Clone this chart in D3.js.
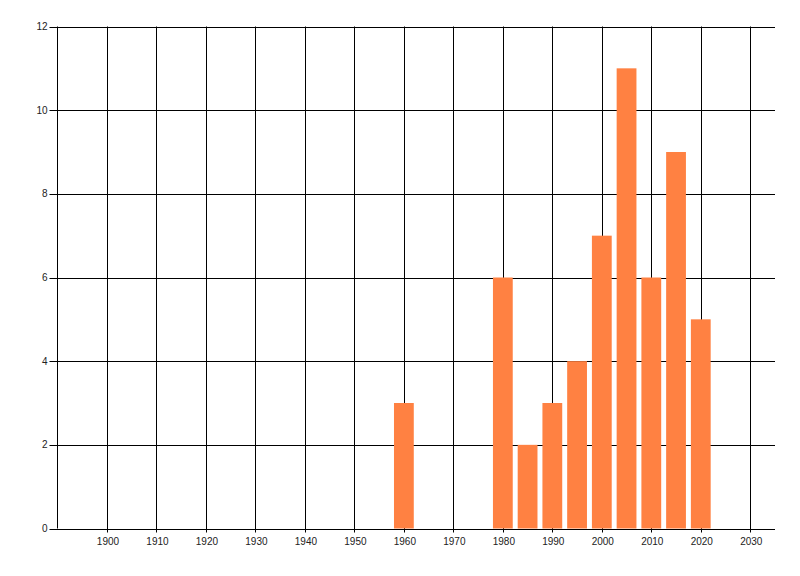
<!DOCTYPE html>
<html>
<head>
<meta charset="utf-8">
<script src="https://cdn.jsdelivr.net/npm/d3@7"></script>
<style>
  body { margin: 0; background: #fff; }
  text { font-family: "Liberation Sans", Arial, sans-serif; font-size: 10px; fill: #222; }
</style>
</head>
<body>
<div id="chart"></div>
<script>
//Chart data
var years = [1960, 1980, 1985, 1990, 1995, 2000, 2005, 2010, 2015, 2020];
var counts = [3, 6, 2, 3, 4, 7, 11, 6, 9, 5];
var xTicks = [1900, 1910, 1920, 1930, 1940, 1950, 1960, 1970, 1980, 1990, 2000, 2010, 2020, 2030];
var yTicks = [0, 2, 4, 6, 8, 10, 12];

var width = 800, height = 576;
var margin = {top: 26.5, right: 25, bottom: 47.5, left: 57.5};

var svg = d3.select("#chart").append("svg")
    .attr("width", width)
    .attr("height", height);

//Scales
var x = d3.scaleLinear()
    .domain([1890, 2035])
    .range([margin.left, width - margin.right]);

var y = d3.scaleLinear()
    .domain([0, 12])
    .range([height - margin.bottom, margin.top]);

var barWidth = x(1904) - x(1900);

//Vertical grid lines (with small tick below the axis)
svg.append("g")
    .selectAll("line")
    .data(xTicks)
    .enter()
    .append("line")
    .attr("x1", function(d) { return Math.round(x(d)) + 0.5; })
    .attr("x2", function(d) { return Math.round(x(d)) + 0.5; })
    .attr("y1", y(12))
    .attr("y2", y(0) + 4)
    .attr("stroke", "#000")
    .attr("stroke-width", 1);

//Horizontal grid lines (with small tick left of the axis)
svg.append("g")
    .selectAll("line")
    .data(yTicks)
    .enter()
    .append("line")
    .attr("x1", x(1890) - 8)
    .attr("x2", x(2035))
    .attr("y1", function(d) { return Math.round(y(d)) + 0.5; })
    .attr("y2", function(d) { return Math.round(y(d)) + 0.5; })
    .attr("stroke", "#000")
    .attr("stroke-width", 1);

//Left axis line
svg.append("line")
    .attr("x1", x(1890))
    .attr("x2", x(1890))
    .attr("y1", y(12))
    .attr("y2", y(0))
    .attr("stroke", "#000");

//Bars
svg.append("g")
    .selectAll("rect")
    .data(years)
    .enter()
    .append("rect")
    .attr("x", function(d) { return x(d) - barWidth / 2; })
    .attr("width", barWidth)
    .attr("y", function(d, i) { return y(counts[i]); })
    .attr("height", function(d, i) { return y(0) - y(counts[i]); })
    .style("fill", "#ff8142");

//X labels
svg.append("g")
    .selectAll("text")
    .data(xTicks)
    .enter()
    .append("text")
    .attr("x", function(d) { return x(d) + 1; })
    .attr("y", y(0) + 16)
    .attr("text-anchor", "middle")
    .text(function(d) { return d; });

//Y labels
svg.append("g")
    .selectAll("text")
    .data(yTicks)
    .enter()
    .append("text")
    .attr("x", x(1890) - 10)
    .attr("y", function(d) { return y(d) + 3.5; })
    .attr("text-anchor", "end")
    .text(function(d) { return d; });
</script>
</body>
</html>
